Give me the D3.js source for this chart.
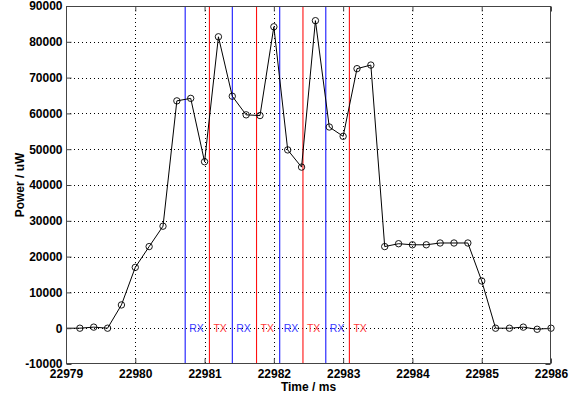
<!DOCTYPE html>
<html><head><meta charset="utf-8">
<script src="https://cdn.jsdelivr.net/npm/d3@7"></script>
<style>
html,body{margin:0;padding:0;background:#fff;}
svg{display:block;}
text{font-family:"Liberation Sans",Arial,Helvetica,sans-serif;}
</style></head>
<body>
<script>
// ---- data ----
const timeMs = [22978.8, 22979.2, 22979.4, 22979.6, 22979.8, 22980.0, 22980.2, 22980.4, 22980.6, 22980.8,
  22981.0, 22981.2, 22981.4, 22981.6, 22981.8, 22982.0, 22982.2, 22982.4, 22982.6, 22982.8,
  22983.0, 22983.2, 22983.4, 22983.6, 22983.8, 22984.0, 22984.2, 22984.4, 22984.6, 22984.8,
  22985.0, 22985.2, 22985.4, 22985.6, 22985.8, 22986.0];
const powerUW = [0, 0, 300, 0, 6500, 17000, 22800, 28500, 63500, 64200,
  46500, 81400, 64800, 59600, 59400, 84200, 49800, 45000, 85900, 56200,
  53600, 72500, 73500, 22800, 23600, 23300, 23300, 23800, 23800, 23800,
  13200, 0, 0, 300, -300, 0];
const rxTimes = [22980.72, 22981.40, 22982.085, 22982.75];
const txTimes = [22981.07, 22981.75, 22982.42, 22983.09];
const rxLabel = "RX", txLabel = "TX";
const xTicks = [22979, 22980, 22981, 22982, 22983, 22984, 22985, 22986];
const xTickLabels = ["22979", "22980", "22981", "22982", "22983", "22984", "22985", "22986"];
const yTicks = [-10000, 0, 10000, 20000, 30000, 40000, 50000, 60000, 70000, 80000, 90000];
const yTickLabels = ["-10000", "0", "10000", "20000", "30000", "40000", "50000", "60000", "70000", "80000", "90000"];
const xTitle = "Time / ms", yTitle = "Power / uW";

// ---- layout ----
const W = 580, H = 397;
const L = 66, R = 551, T = 6, B = 364;
const svg = d3.select("body").append("svg").attr("width", W).attr("height", H);
const x = d3.scaleLinear().domain([22979, 22986]).range([L, R]);
const y = d3.scaleLinear().domain([-10000, 90000]).range([B, T]);
const axisCol = "#444";

svg.append("defs").append("clipPath").attr("id", "clip")
  .append("rect").attr("x", L).attr("y", T).attr("width", R - L).attr("height", B - T);

// grid
const grid = svg.append("g").attr("stroke", "#000").attr("stroke-width", 1).attr("stroke-dasharray", "1,3");
grid.selectAll(".gx").data(xTicks.slice(1, -1)).join("line").attr("class", "gx")
  .attr("x1", d => Math.round(x(d)) + 0.5).attr("x2", d => Math.round(x(d)) + 0.5)
  .attr("y1", T).attr("y2", B);
grid.selectAll(".gy").data(yTicks.slice(1, -1)).join("line").attr("class", "gy")
  .attr("y1", d => Math.round(y(d)) + 0.5).attr("y2", d => Math.round(y(d)) + 0.5)
  .attr("x1", L).attr("x2", R);

// RX / TX markers
const ev = svg.append("g");
ev.selectAll(".rx").data(rxTimes).join("line").attr("class", "rx")
  .attr("x1", d => x(d)).attr("x2", d => x(d))
  .attr("y1", T).attr("y2", B).attr("stroke", "#0000ff").attr("stroke-width", 1);
ev.selectAll(".tx").data(txTimes).join("line").attr("class", "tx")
  .attr("x1", d => x(d)).attr("x2", d => x(d))
  .attr("y1", T).attr("y2", B).attr("stroke", "#ff1010").attr("stroke-width", 1.1);
ev.selectAll(".rxl").data(rxTimes).join("text").attr("class", "rxl")
  .attr("x", d => x(d) + 4).attr("y", y(0) + 4)
  .attr("font-size", 10.5).attr("fill", "#3a3aff").text(rxLabel);
ev.selectAll(".txl").data(txTimes).join("text").attr("class", "txl")
  .attr("x", d => x(d) + 4).attr("y", y(0) + 4)
  .attr("font-size", 10.5).attr("fill", "#ff3a3a").text(txLabel);

// data
const pts = timeMs.map((t, i) => [t, powerUW[i]]);
const plot = svg.append("g");
plot.append("path").datum(pts).attr("clip-path", "url(#clip)")
  .attr("fill", "none").attr("stroke", "#000").attr("stroke-width", 1)
  .attr("d", d3.line().x(d => x(d[0])).y(d => y(d[1])));
plot.selectAll("circle").data(pts.filter(d => d[0] >= 22979 && d[0] <= 22986)).join("circle")
  .attr("cx", d => x(d[0])).attr("cy", d => y(d[1])).attr("r", 3.2)
  .attr("fill", "none").attr("stroke", "#000").attr("stroke-width", 0.9);

// axes
function styleAxis(g) {
  g.select(".domain").remove();
  g.selectAll(".tick line").attr("stroke", axisCol);
  g.selectAll(".tick text").attr("fill", "#000").attr("font-size", 12).attr("font-weight", "bold")
    .attr("font-family", "'Liberation Sans',Arial,sans-serif");
}
svg.append("g").attr("transform", `translate(${L + 0.5},0)`)
  .call(d3.axisLeft(y).tickValues(yTicks).tickFormat((d, i) => yTickLabels[i]).tickSize(-5).tickPadding(4))
  .call(styleAxis);
svg.append("g").attr("transform", `translate(${R - 0.5},0)`)
  .call(d3.axisRight(y).tickValues(yTicks).tickFormat("").tickSize(-5))
  .call(styleAxis);
svg.append("g").attr("transform", `translate(0,${B - 0.5})`)
  .call(d3.axisBottom(x).tickValues(xTicks).tickFormat((d, i) => xTickLabels[i]).tickSize(-5).tickPadding(6))
  .call(styleAxis);
svg.append("g").attr("transform", `translate(0,${T + 0.5})`)
  .call(d3.axisTop(x).tickValues(xTicks).tickFormat("").tickSize(-5))
  .call(styleAxis);

svg.append("rect").attr("x", L + 0.5).attr("y", T + 0.5).attr("width", R - L - 1).attr("height", B - T - 1)
  .attr("fill", "none").attr("stroke", axisCol).attr("stroke-width", 1);

// titles
svg.append("text").attr("x", (L + R) / 2).attr("y", 391).attr("text-anchor", "middle")
  .attr("font-size", 12).attr("font-weight", "bold").text(xTitle);
svg.append("text").attr("transform", `translate(24,${(T + B) / 2}) rotate(-90)`).attr("text-anchor", "middle")
  .attr("font-size", 12).attr("font-weight", "bold").text(yTitle);
</script>
</body></html>
